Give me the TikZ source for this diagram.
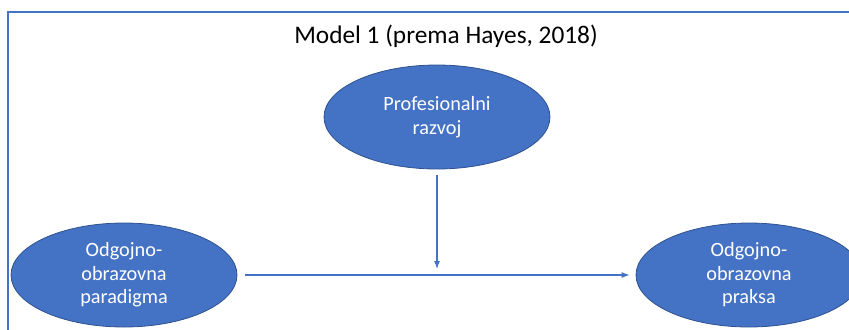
\documentclass[tikz,border=0pt]{standalone}
\usepackage{fontspec}
\setmainfont{Carlito}
\usetikzlibrary{arrows.meta}
\usetikzlibrary{shapes.geometric}
\definecolor{officeblue}{HTML}{4472C4}
\definecolor{officedark}{HTML}{2F528F}
\tikzset{
    varbox/.style={ellipse,fill=officeblue,draw=officedark,line width=0.6pt,
        minimum width=169.5pt,minimum height=78pt,inner sep=0pt,
        text=white,align=center,font=\fontsize{15.2}{17.6}\selectfont},
    conn/.style={-{Latex[length=6pt,width=4.5pt]},draw=officeblue,line width=0.8pt}
}
\begin{document}
\begin{tikzpicture}[x=0.75pt,y=-0.75pt]
        \useasboundingbox (0,0) rectangle (849,329);
        \draw[officeblue,line width=1.3pt] (8,12) rectangle (870,345);
        \node[anchor=base,font=\fontsize{19}{22}\selectfont] (title) at (446,43) {Model 1 (prema Hayes, 2018)};
        \node[varbox] (razvoj) at (437,117) {Profesionalni\\razvoj};
        \node[varbox] (paradigma) at (124,275) {Odgojno-\\obrazovna\\paradigma};
        \node[varbox] (praksa) at (749,275) {Odgojno-\\obrazovna\\praksa};
        \coordinate (mod) at (437,275);
        \draw[conn,shorten <=6pt,shorten >=4.5pt] (paradigma) -- (praksa);
        \draw[conn,shorten <=4.5pt,shorten >=4.5pt] (razvoj) -- (mod);
    \end{tikzpicture}
\end{document}
